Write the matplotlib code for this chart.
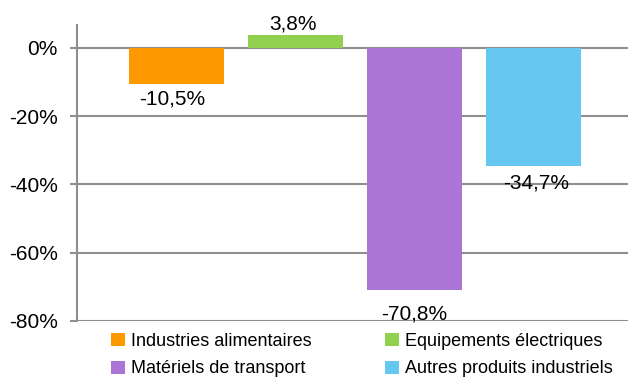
import matplotlib.pyplot as plt
import numpy as np

plt.rcParams['font.family'] = ['Liberation Sans', 'DejaVu Sans']

secteurs = ['Industries alimentaires', 'Equipements électriques',
            'Matériels de transport', 'Autres produits industriels']
variations = [-10.5, 3.8, -70.8, -34.7]
couleurs = ['#FF9900', '#92D050', '#AB75D5', '#66C8F0']
yticks = [0, -20, -40, -60, -80]

fig = plt.figure(figsize=(6.28, 3.78), dpi=100)
ax = fig.add_axes([77 / 628, 1 - 321 / 378, 1 - 77 / 628, (321 - 25) / 378])

gris = '#8E8E8E'
x = np.arange(len(secteurs))
bars = ax.bar(x, variations, width=0.8, color=couleurs, zorder=2, label=secteurs)

ax.set_xlim(-0.84, 3.8)
ax.set_ylim(-80, 6.7)
ax.set_yticks(yticks)
ax.set_yticklabels(['{}%'.format(v) for v in yticks], fontsize=15)
ax.set_xticks([])
ax.yaxis.grid(True, color=gris, linewidth=1.5, zorder=1)
ax.set_axisbelow(True)
ax.tick_params(axis='y', length=5, width=1.5, color=gris, pad=9)

for side in ['top', 'right', 'bottom']:
    ax.spines[side].set_visible(False)
ax.spines['left'].set_color(gris)
ax.spines['left'].set_linewidth(1.5)

# valeurs sous/au-dessus de chaque barre (décalages en points)
decalages = [(-3, -4), (-2, 1), (0, -11), (2, -5)]
for rect, v, (dx, dy) in zip(bars, variations, decalages):
    lbl = '{:.1f}%'.format(v).replace('.', ',')
    cx = rect.get_x() + rect.get_width() / 2
    ax.annotate(lbl, xy=(cx, v), xytext=(dx, dy), textcoords='offset points',
                ha='center', va='bottom' if v >= 0 else 'top', fontsize=15)

# légende sur deux colonnes, placées séparément
colonnes = [([0, 2], 111), ([1, 3], 385)]
for idx, xpix in colonnes:
    leg = fig.legend([bars[i] for i in idx], [secteurs[i] for i in idx],
                     loc='center left', bbox_to_anchor=(xpix / 628, 1 - 355 / 378),
                     frameon=False, fontsize=13, handlelength=0.75, handleheight=0.75,
                     handletextpad=0.35, labelspacing=0.6,
                     borderaxespad=0, borderpad=0)

fig.savefig('out.png', dpi=100)
